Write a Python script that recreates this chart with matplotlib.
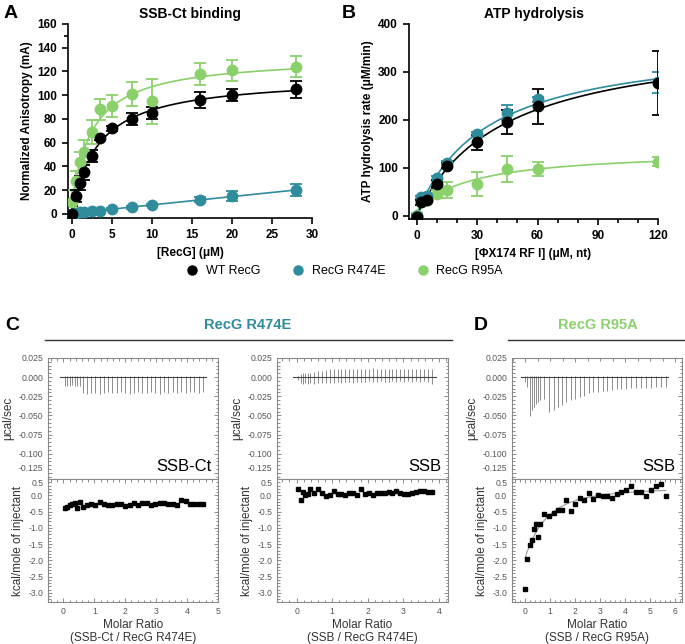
import numpy as np
import matplotlib.pyplot as plt
from matplotlib.lines import Line2D

plt.rcParams['font.family'] = ['Liberation Sans', 'DejaVu Sans']
plt.rcParams['axes.unicode_minus'] = False

# ---- panel A: SSB-Ct binding (anisotropy) ----
a_conc = [0, 0.5, 1, 1.5, 2.5, 3.5, 5, 7.5, 10, 16, 20, 28]
a_wt = [0, 15, 26, 35, 49, 64, 72, 80, 85, 96, 100, 105]
a_wt_err = [7, 5, 6, 6, 5, 2, 2, 5, 5, 7, 5, 7]
a_r474e = [0, 1, 1.5, 2, 2.5, 2.5, 4, 5.5, 7.5, 12, 15, 20]
a_r474e_err = [1, 1, 1, 1, 1, 1, 1, 1, 1, 2, 4, 5]
a_r95a = [10, 28, 44, 52, 69, 88, 91, 101, 95, 118, 121, 124]
a_r95a_err = [10, 8, 8, 10, 10, 9, 9, 10, 19, 9, 9, 9]

# ---- panel B: ATP hydrolysis ----
b_conc = [0, 2, 5, 10, 15, 30, 45, 60, 120]
b_wt = [-2, 28, 33, 67, 104, 153, 195, 228, 277]
b_wt_err = [3, 5, 5, 8, 5, 16, 25, 37, 67]
b_r474e = [0, 38, 42, 78, 110, 170, 215, 243, 278]
b_r474e_err = [3, 4, 4, 5, 5, 5, 15, 5, 22]
b_r95a = [2, 28, 32, 45, 53, 67, 97, 97, 113]
b_r95a_err = [3, 5, 5, 8, 17, 25, 27, 15, 10]

series_names = ['WT RecG', 'RecG R474E', 'RecG R95A']

# ---- ITC: SSB-Ct into RecG R474E ----
c1_ratio = [0.05, 0.13, 0.20, 0.27, 0.36, 0.44, 0.52, 0.63, 0.76, 0.89, 1.03, 1.17,
            1.30, 1.44, 1.58, 1.72, 1.86, 2.00, 2.14, 2.28, 2.42, 2.55, 2.69, 2.83,
            2.97, 3.11, 3.25, 3.39, 3.53, 3.67, 3.81, 3.95, 4.09, 4.23, 4.37, 4.50]
c1_heat = [-0.40, -0.37, -0.30, -0.27, -0.24, -0.40, -0.20, -0.36, -0.30, -0.27, -0.30, -0.22,
           -0.28, -0.31, -0.30, -0.28, -0.26, -0.32, -0.31, -0.23, -0.30, -0.25, -0.25, -0.31,
           -0.26, -0.25, -0.23, -0.26, -0.26, -0.30, -0.15, -0.18, -0.27, -0.28, -0.27, -0.27]
c1_peak_lo = [-0.011, -0.012, -0.011, -0.010, -0.011, -0.011, -0.012, -0.021, -0.022, -0.021,
              -0.021, -0.022, -0.021, -0.020, -0.021, -0.021, -0.020, -0.021, -0.022, -0.021,
              -0.020, -0.021, -0.021, -0.020, -0.021, -0.022, -0.020, -0.021, -0.020, -0.021,
              -0.020, -0.021, -0.019, -0.020, -0.021, -0.020]
c1_peak_hi = [0.001] * 36

# ---- ITC: SSB into RecG R474E ----
c2_ratio = [0.05, 0.12, 0.18, 0.24, 0.31, 0.38, 0.48, 0.60, 0.71, 0.82, 0.93, 1.04,
            1.15, 1.26, 1.37, 1.48, 1.59, 1.70, 1.81, 1.92, 2.03, 2.14, 2.25, 2.36,
            2.47, 2.58, 2.69, 2.80, 2.91, 3.02, 3.13, 3.24, 3.35, 3.46, 3.57, 3.68, 3.80]
c2_heat = [0.18, -0.14, 0.10, 0.00, 0.05, 0.19, 0.08, 0.18, 0.07, -0.02, 0.02, 0.13,
           0.04, 0.04, 0.00, 0.08, 0.06, 0.01, 0.20, 0.04, 0.06, 0.02, 0.06, 0.08,
           0.08, 0.11, 0.06, 0.14, 0.06, 0.04, 0.04, 0.08, 0.10, 0.12, 0.12, 0.11, 0.10]
c2_peak_lo = [-0.004, -0.008, -0.009, -0.008, -0.009, -0.008, -0.009, -0.008, -0.008, -0.007,
              -0.007, -0.007, -0.006, -0.007, -0.006, -0.006, -0.007, -0.006, -0.006, -0.006,
              -0.005, -0.006, -0.006, -0.005, -0.006, -0.006, -0.005, -0.006, -0.005, -0.006,
              -0.005, -0.006, -0.005, -0.006, -0.005, -0.006, -0.009]
c2_peak_hi = [0.002, 0.004, 0.005, 0.005, 0.006, 0.006, 0.007, 0.008, 0.008, 0.009,
              0.010, 0.011, 0.010, 0.011, 0.010, 0.011, 0.010, 0.010, 0.011, 0.010,
              0.011, 0.012, 0.011, 0.010, 0.011, 0.010, 0.011, 0.010, 0.011, 0.010,
              0.011, 0.010, 0.011, 0.010, 0.011, 0.011, 0.010]

# ---- ITC: SSB into RecG R95A ----
d_ratio = [0.00, 0.09, 0.19, 0.28, 0.35, 0.43, 0.51, 0.61, 0.77, 0.97, 1.15, 1.31,
           1.47, 1.65, 1.83, 2.01, 2.19, 2.36, 2.55, 2.73, 2.92, 3.11, 3.29, 3.48,
           3.67, 3.85, 4.04, 4.24, 4.44, 4.64, 4.83, 5.03, 5.23, 5.43, 5.63]
d_heat = [-2.87, -1.97, -1.52, -1.38, -1.03, -0.88, -1.28, -0.88, -0.58, -0.64, -0.55, -0.44,
          -0.44, -0.14, -0.48, -0.26, -0.07, -0.16, 0.07, -0.10, 0.02, -0.03, -0.03, -0.08,
          0.03, 0.11, 0.15, 0.27, 0.11, 0.11, -0.02, 0.15, 0.28, 0.34, -0.01]
d_peak_lo = [-0.006, -0.013, -0.051, -0.043, -0.039, -0.035, -0.032, -0.030, -0.028, -0.046,
             -0.043, -0.039, -0.036, -0.032, -0.030, -0.028, -0.026, -0.024, -0.021, -0.020,
             -0.019, -0.018, -0.018, -0.017, -0.016, -0.015, -0.015, -0.014, -0.014, -0.014,
             -0.014, -0.014, -0.013, -0.013, -0.013]
d_peak_hi = [0.001] * 35

W, H = 685, 644
BLACK = '#000000'
TEAL = '#2f8c9c'
GREEN = '#8ad16b'


def hyperbola_fit(x, y):
    x = np.asarray(x, float)
    y = np.asarray(y, float)
    best = None
    for k in np.logspace(-1, 3.5, 500):
        f = x / (k + x)
        m = np.column_stack([f, np.ones_like(f)])
        coef = np.linalg.lstsq(m, y, rcond=None)[0]
        sse = np.sum((m @ coef - y) ** 2)
        if best is None or sse < best[0]:
            best = (sse, k, coef)
    _, k, (a, b) = best
    return lambda t: a * t / (k + t) + b


def wiseman_fit(xr, q):
    # single-site isotherm, first injection left out as usual
    xr = np.asarray(xr, float)[1:]
    q = np.asarray(q, float)[1:]
    best = None
    for n in np.linspace(0.3, 3, 55):
        for r in np.logspace(-3, 1, 60):
            X = xr / n
            w = 0.5 + (1 - X - r) / (2 * np.sqrt((1 + X + r) ** 2 - 4 * X))
            m = np.column_stack([w, np.ones_like(w)])
            coef = np.linalg.lstsq(m, q, rcond=None)[0]
            sse = np.sum((m @ coef - q) ** 2)
            if best is None or sse < best[0]:
                best = (sse, n, r, coef)
    _, n, r, (dh, off) = best

    def curve(t):
        X = t / n
        return dh * (0.5 + (1 - X - r) / (2 * np.sqrt((1 + X + r) ** 2 - 4 * X))) + off
    return curve


def bold_ticks(ax):
    for t in ax.get_xticklabels() + ax.get_yticklabels():
        t.set_fontweight('bold')


def prism_axes(ax):
    for s in ['top', 'right']:
        ax.spines[s].set_visible(False)
    for s in ['left', 'bottom']:
        ax.spines[s].set_linewidth(1.2)
    ax.tick_params(width=1.2, length=4.5, labelsize=8.5)
    ax.tick_params(which='minor', width=1.2, length=3)


fig = plt.figure(figsize=(6.85, 6.44), dpi=100)

# ---------- A ----------
axA = fig.add_axes([68 / W, 1 - 218 / H, 244 / W, 194 / H])
for ys, es, c in [(a_r95a, a_r95a_err, GREEN), (a_r474e, a_r474e_err, TEAL), (a_wt, a_wt_err, BLACK)]:
    fit = hyperbola_fit(a_conc, ys)
    xs = np.linspace(0, max(a_conc), 200)
    axA.plot(xs, fit(xs), color=c, lw=1.2, zorder=2)
    axA.errorbar(a_conc, ys, yerr=es, fmt='o', color=c, ms=7.5, capsize=4,
                 elinewidth=1.3, capthick=1.3, zorder=3)
axA.set_xlim(-0.5, 30)
axA.set_ylim(-3.4, 160)
axA.set_xticks([0, 5, 10, 15, 20, 25, 30])
axA.set_yticks([0, 20, 40, 60, 80, 100, 120, 140, 160])
axA.set_yticks([150], minor=True)
prism_axes(axA)
bold_ticks(axA)
axA.set_xlabel('[RecG] (μM)', fontsize=8.5, fontweight='bold', labelpad=4)
axA.set_ylabel('Normalized Anisotropy (mA)', fontsize=8.5, fontweight='bold', labelpad=3)
axA.set_title('SSB-Ct binding', fontsize=10, fontweight='bold', pad=4)

# ---------- B ----------
axB = fig.add_axes([409 / W, 1 - 219 / H, 249 / W, 195 / H])
for ys, es, c in [(b_r95a, b_r95a_err, GREEN), (b_r474e, b_r474e_err, TEAL), (b_wt, b_wt_err, BLACK)]:
    fit = hyperbola_fit(b_conc, ys)
    xs = np.linspace(0, max(b_conc), 300)
    axB.plot(xs, fit(xs), color=c, lw=1.2, zorder=2)
    axB.errorbar(b_conc, ys, yerr=es, fmt='o', color=c, ms=7.5, capsize=4,
                 elinewidth=1.3, capthick=1.3, zorder=3)
axB.set_xlim(-4, 120)
axB.set_ylim(-7, 400)
axB.set_xticks([0, 30, 60, 90, 120])
axB.set_xticks([10, 20, 40, 50, 70, 80, 100, 110], minor=True)
axB.set_yticks([0, 100, 200, 300, 400])
prism_axes(axB)
bold_ticks(axB)
axB.set_xlabel('[ΦX174 RF I] (μM, nt)', fontsize=8.5, fontweight='bold', labelpad=4)
axB.set_ylabel('ATP hydrolysis rate (μM/min)', fontsize=8.5, fontweight='bold', labelpad=3)
axB.set_title('ATP hydrolysis', fontsize=10, fontweight='bold', pad=4)

fig.text(4 / W, 1 - 13 / H, 'A', fontsize=14, fontweight='bold', va='center')
fig.text(342 / W, 1 - 13 / H, 'B', fontsize=14, fontweight='bold', va='center')

handles = [Line2D([], [], marker='o', ls='', color=c, ms=6.5) for c in [BLACK, TEAL, GREEN]]
fig.legend(handles, series_names, loc='center', bbox_to_anchor=(345 / W, 1 - 271 / H), ncol=3,
           frameon=False, fontsize=9, handlelength=0.8, handletextpad=0.7, columnspacing=2.6)

# ---------- ITC panels ----------
FRAME = '#8a8a8a'
TXT = '#333333'


def itc_panel(left, right, xlim, xticks, ratio, lo, hi, heat, tag, xlabel, fitted=False):
    top = fig.add_axes([left / W, 1 - 479 / H, (right - left) / W, 121 / H])
    bot = fig.add_axes([left / W, 1 - 602 / H, (right - left) / W, 123 / H])

    top.plot([ratio[0] - 0.15, ratio[-1] + 0.1], [0, 0], color='#444444', lw=0.8, zorder=3)
    top.vlines(ratio, lo, hi, color='#8c8c8c', lw=0.7, zorder=2)
    top_ticks = [0.025, 0.0, -0.025, -0.05, -0.075, -0.1, -0.125]
    top.set_ylim(-0.133, 0.025)
    top.set_yticks(top_ticks)
    top.set_yticklabels(['%.3f' % v for v in top_ticks])
    top.get_yticklabels()[-1].set_va('bottom')
    top.text(0.96, 0.04, tag, transform=top.transAxes, ha='right', va='bottom', fontsize=12)
    top.set_ylabel('μcal/sec', fontsize=8.5, color=TXT, labelpad=3)

    bot.plot(ratio, heat, 's', color='black', ms=3.2, zorder=3)
    if fitted:
        f = wiseman_fit(ratio, heat)
        xs = np.linspace(0, max(ratio), 200)
        bot.plot(xs, f(xs), color='#999999', lw=0.8, zorder=2)
    bot_ticks = [0.5, 0.0, -0.5, -1.0, -1.5, -2.0, -2.5, -3.0]
    bot.set_ylim(-3.28, 0.5)
    bot.set_yticks(bot_ticks)
    bot.set_yticklabels(['%.1f' % v for v in bot_ticks])
    bot.get_yticklabels()[0].set_va('top')
    bot.set_xticks(xticks)
    bot.set_ylabel('kcal/mole of injectant', fontsize=8.5, color=TXT, labelpad=3)
    bot.set_xlabel(xlabel, fontsize=8.5, color=TXT, linespacing=1.15, labelpad=2)

    for ax in (top, bot):
        ax.set_xlim(*xlim)
        for s in ax.spines.values():
            s.set_color(FRAME)
            s.set_linewidth(0.8)
        ax.minorticks_on()
        ax.tick_params(which='both', colors=FRAME, labelcolor='#555555', labelsize=6.2, width=0.7)
        ax.tick_params(which='major', length=3)
        ax.tick_params(which='minor', length=1.8)
        ax.tick_params(axis='y', which='both', left=True, right=True, direction='in')
    top.tick_params(axis='x', which='both', top=True, bottom=False, labelbottom=False, direction='in')
    bot.tick_params(axis='x', which='both', top=True, bottom=True, direction='in')
    return top, bot


itc_panel(48, 218, (-0.5, 5.0), [0, 1, 2, 3, 4, 5], c1_ratio, c1_peak_lo, c1_peak_hi, c1_heat,
          'SSB-Ct', 'Molar Ratio\n(SSB-Ct / RecG R474E)')
itc_panel(277, 448, (-0.55, 4.25), [0, 1, 2, 3, 4], c2_ratio, c2_peak_lo, c2_peak_hi, c2_heat,
          'SSB', 'Molar Ratio\n(SSB / RecG R474E)')
itc_panel(512, 682, (-0.52, 6.28), [0, 1, 2, 3, 4, 5, 6], d_ratio, d_peak_lo, d_peak_hi, d_heat,
          'SSB', 'Molar Ratio\n(SSB / RecG R95A)', fitted=True)

# group headers
fig.text(5 / W, 1 - 325 / H, 'C', fontsize=14, fontweight='bold', va='center')
fig.text(474 / W, 1 - 325 / H, 'D', fontsize=14, fontweight='bold', va='center')
fig.text(248 / W, 1 - 325 / H, 'RecG R474E', fontsize=10.5, fontweight='bold', color=TEAL,
         ha='center', va='center')
fig.text(598 / W, 1 - 325 / H, 'RecG R95A', fontsize=10.5, fontweight='bold', color=GREEN,
         ha='center', va='center')
fig.add_artist(Line2D([45 / W, 452 / W], [1 - 340 / H] * 2, color='#333333', lw=1.0))
fig.add_artist(Line2D([508 / W, 685 / W], [1 - 340 / H] * 2, color='#333333', lw=1.0))

fig.savefig('out.png', dpi=100)
